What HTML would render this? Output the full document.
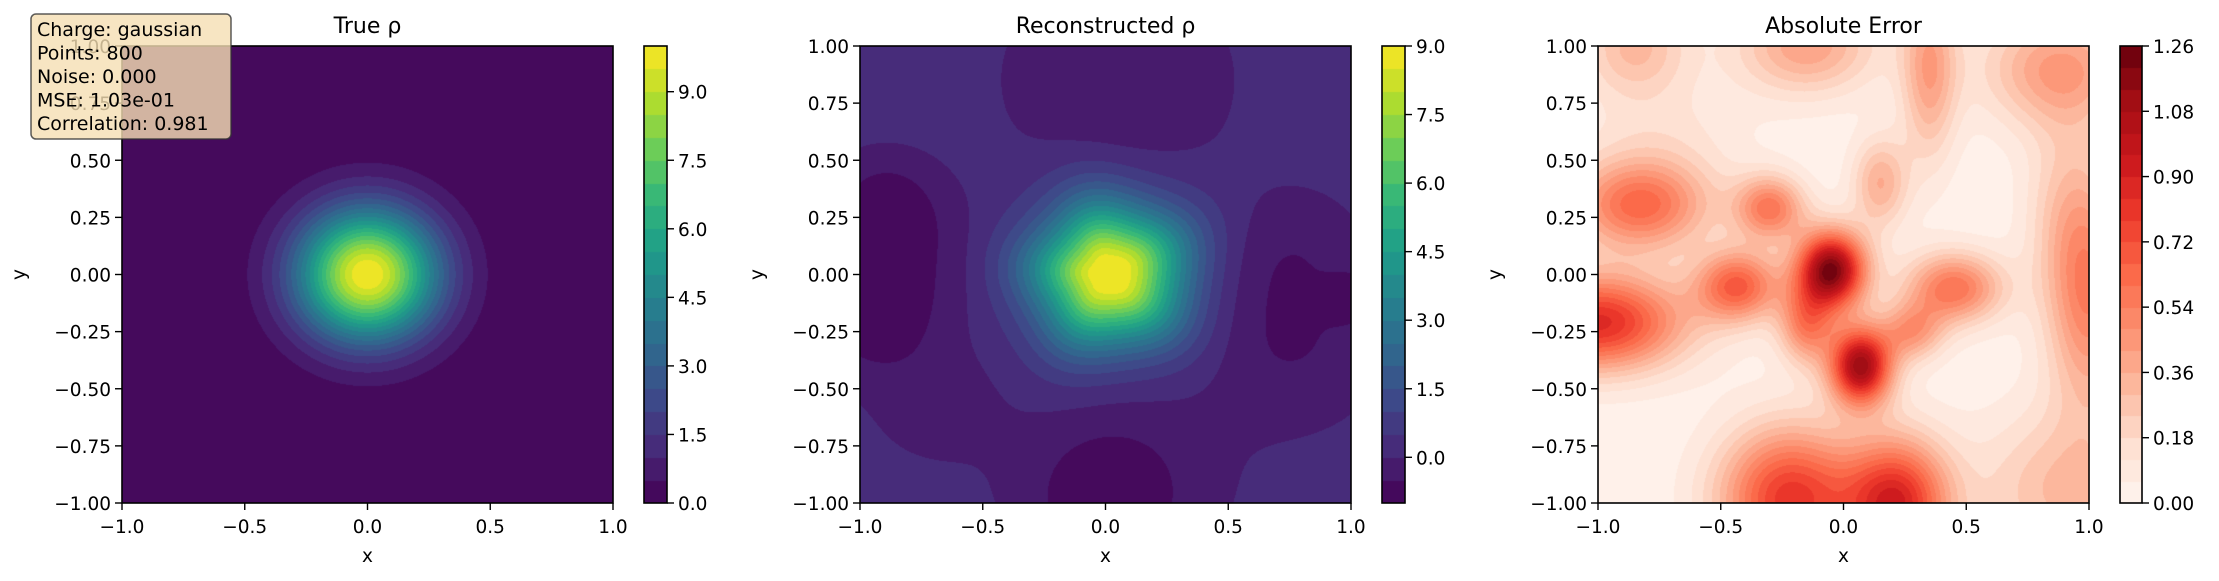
<!DOCTYPE html>
<html><head><meta charset="utf-8">
<style>
html,body{margin:0;padding:0;background:#fff;}
#fig{position:relative;width:2219px;height:581px;overflow:hidden;background:#fff;}
canvas{position:absolute;}
svg{position:absolute;left:0;top:0;}
text{font-family:"DejaVu Sans","Liberation Sans",sans-serif;fill:#000;}
</style></head>
<body>
<div id="fig">
<canvas id="c1" width="491" height="457" style="left:122px;top:46px"></canvas>
<canvas id="c2" width="491" height="457" style="left:860px;top:46px"></canvas>
<canvas id="c3" width="491" height="457" style="left:1598px;top:46px"></canvas>
<canvas id="cb1" width="23" height="457" style="left:644px;top:46px"></canvas>
<canvas id="cb2" width="23" height="457" style="left:1382px;top:46px"></canvas>
<canvas id="cb3" width="22" height="457" style="left:2120px;top:46px"></canvas>
<svg id="ov" width="2219" height="581"></svg>
</div>
<script>
// ---- data ----
const xTicks = [-1.0, -0.5, 0.0, 0.5, 1.0];
const xTickLabels = ["\u22121.0","\u22120.5","0.0","0.5","1.0"];
const yTicks = [-1.0,-0.75,-0.5,-0.25,0.0,0.25,0.5,0.75,1.0];
const yTickLabels = ["\u22121.00","\u22120.75","\u22120.50","\u22120.25","0.00","0.25","0.50","0.75","1.00"];
const titles = ["True \u03c1","Reconstructed \u03c1","Absolute Error"];
const trueAmp = 10.0, trueSigma = 0.2;
const trueLevels = [0, 10, 20];
const cb1Ticks = [0.0,1.5,3.0,4.5,6.0,7.5,9.0];
const cb1Labels = ["0.0","1.5","3.0","4.5","6.0","7.5","9.0"];
const recAmp = 9.1, recSigma = 0.21, recBase = 0.2;
const recBx = [0.05, 0.75, 0.05, -0.75, -0.9, -0.95, 0.0, 1.0, 0.75, -0.7];
const recBy = [0.85, -0.3, -0.9, 0.05, 0.3, -0.2, -1.0, -0.1, 0.1, -0.55];
const recBs = [0.3, 0.25, 0.3, 0.2, 0.15, 0.16, 0.18, 0.07, 0.2, 0.2];
const recBa = [-0.7, -0.7, -0.65, -0.6, -1.0, -1.0, -0.7, -0.9, -0.5, -0.4];
const recLevels = [-1, 9, 20];
const cb2Ticks = [0.0,1.5,3.0,4.5,6.0,7.5,9.0];
const cb2Labels = ["0.0","1.5","3.0","4.5","6.0","7.5","9.0"];
const errX = [-0.05, 0.07, -0.43, -0.3, -0.83, -1.0, 0.45, 0.28, 0.15, -0.22, 0.22, 0.35, -0.15, 0.88, -0.85, 1.0, 0.9, -0.15, -0.75, 0.9];
const errY = [0.02, -0.4, -0.05, 0.29, 0.3, -0.21, -0.06, -0.25, 0.4, -0.98, -1.0, 0.9, 1.0, 0.9, 1.0, -0.1, -0.95, -0.22, 0.6, 0.3];
const errSx = [0.1, 0.09, 0.12, 0.1, 0.2, 0.25, 0.14, 0.09, 0.08, 0.2, 0.15, 0.08, 0.2, 0.22, 0.15, 0.12, 0.25, 0.08, 0.25, 0.12];
const errSy = [0.12, 0.12, 0.11, 0.1, 0.14, 0.15, 0.11, 0.09, 0.14, 0.22, 0.2, 0.28, 0.15, 0.18, 0.15, 0.35, 0.25, 0.12, 0.2, 0.3];
const errA = [1.2, 1.1, 0.65, 0.55, 0.6, 0.85, 0.58, 0.4, 0.35, 0.8, 0.85, 0.4, 0.4, 0.42, 0.3, 0.5, 0.3, 0.5, 0.12, 0.18];
const errLevels = [0, 1.26, 21];
const cb3Ticks = [0.00,0.18,0.36,0.54,0.72,0.90,1.08,1.26];
const cb3Labels = ["0.00","0.18","0.36","0.54","0.72","0.90","1.08","1.26"];
const infoLines = ["Charge: gaussian","Points: 800","Noise: 0.000","MSE: 1.03e-01","Correlation: 0.981"];

const viridis = ["#440154","#482878","#3e4989","#31688e","#26828e","#1f9e89","#35b779","#6ece58","#b5de2b","#fde725"];
const reds = ["#fff5f0","#fee0d2","#fcbba1","#fc9272","#fb6a4a","#ef3b2c","#cb181d","#a50f15","#67000d"];
function hex(h){return [parseInt(h.slice(1,3),16),parseInt(h.slice(3,5),16),parseInt(h.slice(5,7),16)];}
function cmap(stops,t){t=Math.max(0,Math.min(1,t));const n=stops.length-1;const f=t*n;const i=Math.min(n-1,Math.floor(f));const u=f-i;const a=hex(stops[i]),b=hex(stops[i+1]);return [a[0]+(b[0]-a[0])*u,a[1]+(b[1]-a[1])*u,a[2]+(b[2]-a[2])*u];}
function bandColor(stops,v,lv){const [lo,hi,n]=lv;let k=Math.floor((v-lo)/(hi-lo)*n);k=Math.max(0,Math.min(n-1,k));return cmap(stops,(k+0.5)/n);}

function fTrue(x,y){return trueAmp*Math.exp(-(x*x+y*y)/(2*trueSigma*trueSigma));}
function fRec(x,y){
  const ang=Math.atan2(y,x);const r2=((x-0.02)*(x-0.02)+y*y)*(1+0.08*Math.cos(5*ang+0.6));
  let v=recBase+recAmp*Math.exp(-r2/(2*recSigma*recSigma));
  for(let i=0;i<recBx.length;i++){const dx=x-recBx[i],dy=y-recBy[i];v+=recBa[i]*Math.exp(-(dx*dx+dy*dy)/(2*recBs[i]*recBs[i]));}
  return v;}
function fErr(x,y){let v=0.01;
  for(let i=0;i<errX.length;i++){const dx=(x-errX[i])/errSx[i],dy=(y-errY[i])/errSy[i];v+=errA[i]*Math.exp(-(dx*dx+dy*dy)/2);}
  return Math.min(v,1.259);}

function drawField(id,f,stops,lv){
  const c=document.getElementById(id),ctx=c.getContext('2d');const W=c.width,H=c.height;
  const img=ctx.createImageData(W,H);
  for(let py=0;py<H;py++){const y=1-2*(py+0.5)/H;
    for(let px=0;px<W;px++){const x=-1+2*(px+0.5)/W;const col=bandColor(stops,f(x,y),lv);const o=(py*W+px)*4;
      img.data[o]=col[0];img.data[o+1]=col[1];img.data[o+2]=col[2];img.data[o+3]=255;}}
  ctx.putImageData(img,0,0);}
function drawBar(id,stops,lv){
  const c=document.getElementById(id),ctx=c.getContext('2d');const n=lv[2];
  for(let k=0;k<n;k++){const col=cmap(stops,(k+0.5)/n);ctx.fillStyle=`rgb(${col[0]|0},${col[1]|0},${col[2]|0})`;
    const y0=c.height*(1-(k+1)/n),y1=c.height*(1-k/n);ctx.fillRect(0,Math.floor(y0),c.width,Math.ceil(y1)-Math.floor(y0));}}
drawField('c1',fTrue,viridis,trueLevels);
drawField('c2',fRec,viridis,recLevels);
drawField('c3',fErr,reds,errLevels);
drawBar('cb1',viridis,trueLevels);drawBar('cb2',viridis,recLevels);drawBar('cb3',reds,errLevels);

const NS="http://www.w3.org/2000/svg";const ov=document.getElementById('ov');
function el(tag,attrs,parent){const e=document.createElementNS(NS,tag);for(const k in attrs)e.setAttribute(k,attrs[k]);(parent||ov).appendChild(e);return e;}
const T=46,H=457,W=491;
const lefts=[122,860,1598];
const cbs=[[644,23,trueLevels,cb1Ticks,cb1Labels],[1382,23,recLevels,cb2Ticks,cb2Labels],[2120,22,errLevels,cb3Ticks,cb3Labels]];
const keys=["true-rho","reconstructed-rho","error"];
for(let p=0;p<3;p++){
  const L=lefts[p];
  const sx=v=>L+(v+1)/2*W, sy=v=>T+(1-v)/2*H;
  const g=el('g',{});
  
  
  const fr=el('rect',{x:L,y:T,width:W,height:H,fill:'none',stroke:'#000','stroke-width':1.6},g);
  
  
  xTicks.forEach((v,i)=>{
    el('line',{x1:sx(v),x2:sx(v),y1:T+H,y2:T+H+7,stroke:'#000','stroke-width':1.4},g);
    const t=el('text',{x:sx(v),y:533,'font-size':18.5,'text-anchor':'middle'},g);t.textContent=xTickLabels[i];
    
    
  });
  yTicks.forEach((v,i)=>{
    el('line',{x1:L-7,x2:L,y1:sy(v),y2:sy(v),stroke:'#000','stroke-width':1.4},g);
    const t=el('text',{x:L-11,y:sy(v)+7,'font-size':18.5,'text-anchor':'end'},g);t.textContent=yTickLabels[i];
    
    
  });
  const xl=el('text',{x:L+W/2,y:562,'font-size':18.5,'text-anchor':'middle'},g);xl.textContent='x';
  
  
  const yx=L-97,yy=T+H/2;
  const yl=el('text',{x:yx,y:yy,'font-size':18.5,'text-anchor':'middle',transform:`rotate(-90 ${yx} ${yy})`},g);yl.textContent='y';
  
  
  const tt=el('text',{x:L+W/2,y:33,'font-size':22,'text-anchor':'middle'},g);tt.textContent=titles[p];
  
  
  const [cx,cw,lv,tk,tl]=cbs[p];
  const cbf=el('rect',{x:cx,y:T,width:cw,height:H,fill:'none',stroke:'#000','stroke-width':1.6},g);
  
  
  const cy=v=>T+H*(1-(v-lv[0])/(lv[1]-lv[0]));
  tk.forEach((v,i)=>{
    el('line',{x1:cx+cw,x2:cx+cw+7,y1:cy(v),y2:cy(v),stroke:'#000','stroke-width':1.4},g);
    const t=el('text',{x:cx+cw+11,y:cy(v)+7,'font-size':18.5},g);t.textContent=tl[i];
    
    
  });
}
const ib=el('g',{});


el('rect',{x:31,y:14,width:200,height:125,rx:5,ry:5,fill:'#f5deb3','fill-opacity':0.8,stroke:'#333','stroke-opacity':0.8,'stroke-width':1.5},ib);
infoLines.forEach((s,i)=>{const t=el('text',{x:37,y:36+i*23.5,'font-size':19},ib);t.textContent=s;
  
  
});
</script>
</body></html>
